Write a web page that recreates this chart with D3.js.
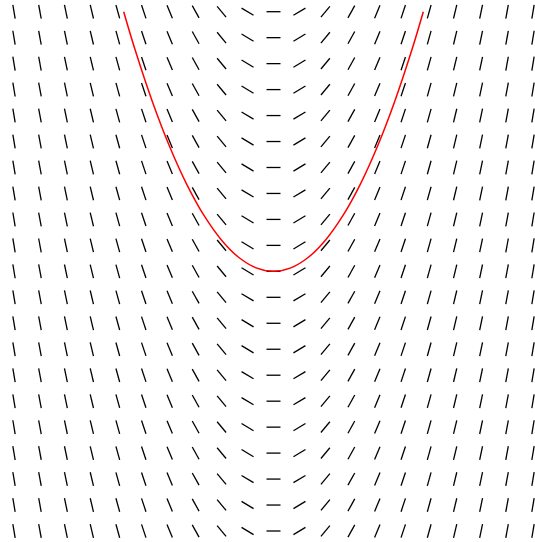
<!DOCTYPE html>
<html>
<head>
<meta charset="utf-8">
<script src="https://cdn.jsdelivr.net/npm/d3@7"></script>
<style>
  html, body { margin: 0; padding: 0; background: #fff; }
  svg { display: block; }
</style>
</head>
<body>
<div id="chart"></div>
<script>
// grid sample positions (x and y both run -3..3)
const gridX = [-3, -2.7, -2.4, -2.1, -1.8, -1.5, -1.2, -0.9, -0.6, -0.3, 0,
  0.3, 0.6, 0.9, 1.2, 1.5, 1.8, 2.1, 2.4, 2.7, 3];
const gridY = [-3, -2.7, -2.4, -2.1, -1.8, -1.5, -1.2, -0.9, -0.6, -0.3, 0,
  0.3, 0.6, 0.9, 1.2, 1.5, 1.8, 2.1, 2.4, 2.7, 3];
// slope dy/dx for each column
const slopes = [-6, -5.4, -4.8, -4.2, -3.6, -3, -2.4, -1.8, -1.2, -0.6, 0,
  0.6, 1.2, 1.8, 2.4, 3, 3.6, 4.2, 4.8, 5.4, 6];
// solution curve through the origin
const curveX = [-1.732, -1.6, -1.4, -1.2, -1, -0.8, -0.6, -0.4, -0.2, 0,
  0.2, 0.4, 0.6, 0.8, 1, 1.2, 1.4, 1.6, 1.732];
const curveY = [3, 2.56, 1.96, 1.44, 1, 0.64, 0.36, 0.16, 0.04, 0,
  0.04, 0.16, 0.36, 0.64, 1, 1.44, 1.96, 2.56, 3];

const width = 535;
const height = 542;
const segLen = 14;

const svg = d3
  .select("#chart")
  .append("svg")
  .attr("width", width)
  .attr("height", height);

const xScale = d3.scaleLinear().domain([-3, 3]).range([14, 533]);
const yScale = d3.scaleLinear().domain([-3, 3]).range([531, 11.7]);

// slope field
const cells = [];
gridX.forEach((x, i) => {
  gridY.forEach((y) => cells.push({ x, y, m: slopes[i] }));
});

svg
  .append("g")
  .selectAll("line")
  .data(cells)
  .join("line")
  .each(function (d) {
    const cx = xScale(d.x);
    const cy = yScale(d.y);
    // direction in pixel space
    const dx = xScale(1) - xScale(0);
    const dy = yScale(d.m) - yScale(0);
    const len = Math.hypot(dx, dy);
    const ux = (dx / len) * segLen / 2;
    const uy = (dy / len) * segLen / 2;
    d3.select(this)
      .attr("x1", cx - ux)
      .attr("y1", cy - uy)
      .attr("x2", cx + ux)
      .attr("y2", cy + uy);
  })
  .attr("stroke", "#000")
  .attr("stroke-width", 1.3);

// solution curve
const line = d3
  .line()
  .x((d) => xScale(d[0]))
  .y((d) => yScale(d[1]))
  .curve(d3.curveCatmullRom);

svg
  .append("path")
  .datum(curveX.map((x, i) => [x, curveY[i]]))
  .attr("d", line)
  .attr("fill", "none")
  .attr("stroke", "red")
  .attr("stroke-width", 1.5);
</script>
</body>
</html>
